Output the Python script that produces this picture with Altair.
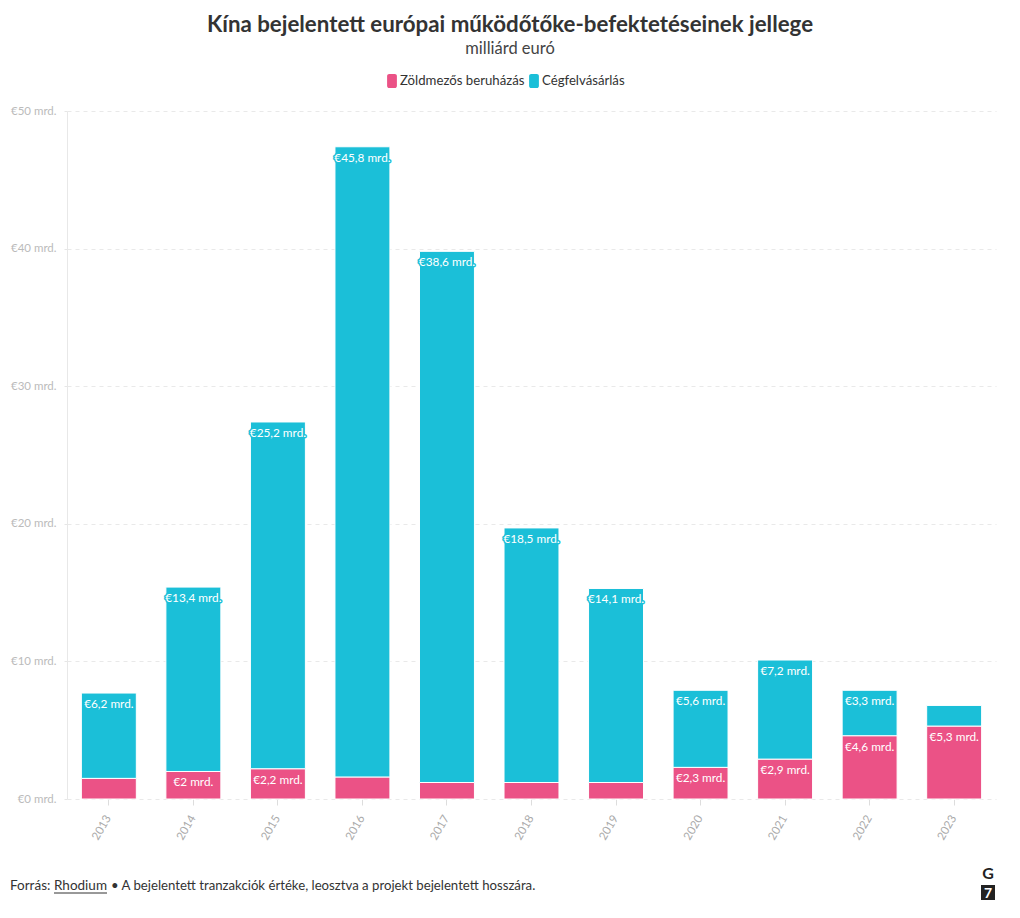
import altair as alt
import pandas as pd

# ---- data ----
years = ["2013", "2014", "2015", "2016", "2017", "2018", "2019", "2020", "2021", "2022", "2023"]
greenfield = [1.5, 2.0, 2.2, 1.6, 1.2, 1.2, 1.2, 2.3, 2.9, 4.6, 5.3]
acquisitions = [6.2, 13.4, 25.2, 45.8, 38.6, 18.5, 14.1, 5.6, 7.2, 3.3, 1.5]
series = ["Zöldmezős beruházás", "Cégfelvásárlás"]
colors = ["#EB5286", "#1BBFD8"]
y_ticks = [0, 10, 20, 30, 40, 50]

TITLE = "Kína bejelentett európai működőtőke-befektetéseinek jellege"
SUBTITLE = "milliárd euró"
FOOT_A = "Forrás:"
FOOT_LINK = "Rhodium"
FOOT_B = "• A bejelentett tranzakciók értéke, leosztva a projekt bejelentett hosszára."
FONT = "Lato"


def fmt(v):
    return "€" + ("%g" % v).replace(".", ",") + " mrd."


rows = []
for i, y in enumerate(years):
    g = greenfield[i]
    a = acquisitions[i]
    rows.append({"year": y, "series": series[0], "value": g, "ord": 0, "top": g, "label": fmt(g)})
    rows.append({"year": y, "series": series[1], "value": a, "ord": 1, "top": g + a, "label": fmt(a)})
df = pd.DataFrame(rows)
lab = df[df["value"] >= 1.9]

xscale = alt.Scale(paddingInner=0.35, paddingOuter=0.17)
yscale = alt.Scale(domain=[0, 50], nice=False)
cscale = alt.Scale(domain=series, range=colors)

legend_shape = ("M-0.4,-1 H0.4 A0.3,0.3 0 0 1 0.7,-0.7 V0.7 A0.3,0.3 0 0 1 0.4,1 "
                "H-0.4 A0.3,0.3 0 0 1 -0.7,0.7 V-0.7 A0.3,0.3 0 0 1 -0.4,-1 Z")

bars = alt.Chart(df).mark_bar(stroke="white", strokeWidth=1).encode(
    x=alt.X("year:N", scale=xscale, title=None,
            axis=alt.Axis(labelAngle=-60, labelColor="#aaaaaa", labelFontSize=11.5, labelFont=FONT,
                          domain=False, ticks=True, tickColor="#dddddd", tickSize=6,
                          labelPadding=11, grid=False)),
    y=alt.Y("value:Q", stack="zero", scale=yscale, title=None,
            axis=alt.Axis(values=y_ticks, labelExpr="'€' + datum.value + ' mrd.'",
                          labelColor="#bbbbbb", labelFontSize=11.5, labelFont=FONT,
                          domain=True, domainColor="#e8e8e8",
                          ticks=True, tickSize=6, tickColor="#e6e6e6", tickDash=[3, 3],
                          grid=True, gridColor="#e9e9e9", gridDash=[4, 4], labelPadding=5)),
    color=alt.Color("series:N", scale=cscale, title=None,
                    legend=alt.Legend(orient="none", legendX=318, legendY=-37, direction="horizontal",
                                      symbolType=legend_shape, symbolSize=196, symbolStrokeWidth=0,
                                      labelFontSize=13.2, labelFont=FONT, labelColor="#333333",
                                      columnPadding=2, labelOffset=1, padding=0)),
    order=alt.Order("ord:Q"),
)

halo = alt.Chart(lab).mark_text(baseline="middle", dy=11, fontSize=11.8, font=FONT,
                                strokeWidth=3, strokeJoin="round", fill="white").encode(
    x=alt.X("year:N", scale=xscale),
    y=alt.Y("top:Q", scale=yscale),
    stroke=alt.Stroke("series:N", scale=cscale, legend=None),
    text="label:N",
)
labels = alt.Chart(lab).mark_text(baseline="middle", dy=11, fontSize=11.8, font=FONT, color="white").encode(
    x=alt.X("year:N", scale=xscale),
    y=alt.Y("top:Q", scale=yscale),
    text="label:N",
)


def txt(s, x, y, **kw):
    return alt.Chart(pd.DataFrame({"t": [s]})).mark_text(**kw).encode(
        x=alt.value(x), y=alt.value(y), text="t:N")


title = txt(TITLE, 443, -79, fontSize=22.3, fontWeight="bold", font=FONT, color="#333333",
            align="center", baseline="alphabetic")
subtitle = txt(SUBTITLE, 443, -57, fontSize=16.5, font=FONT, color="#444444",
               align="center", baseline="alphabetic")
foot_a = txt(FOOT_A, -57, 779, fontSize=13.5, font=FONT, color="#333333", align="left", baseline="alphabetic")
foot_link = txt(FOOT_LINK, -13, 779, fontSize=13.5, font=FONT, color="#333333", align="left", baseline="alphabetic")
foot_b = txt(FOOT_B, 44, 779, fontSize=13.2, font=FONT, color="#333333", align="left", baseline="alphabetic")
underline = alt.Chart(pd.DataFrame({"t": [0]})).mark_rule(color="#333333", strokeWidth=1).encode(
    x=alt.value(-13), x2=alt.value(40), y=alt.value(782))
logo_box = alt.Chart(pd.DataFrame({"t": [0]})).mark_rect(color="#222222").encode(
    x=alt.value(914), x2=alt.value(928), y=alt.value(774), y2=alt.value(789))
logo_g = txt("G", 921, 768, fontSize=16, fontWeight="bold", font=FONT, color="#222222",
             align="center", baseline="alphabetic")
logo_7 = txt("7", 921, 787, fontSize=14, fontWeight="bold", font=FONT, color="white",
             align="center", baseline="alphabetic")

chart = alt.layer(bars, halo, labels, title, subtitle, foot_a, foot_link, foot_b, underline,
                  logo_box, logo_g, logo_7).properties(
    width=929, height=688,
    autosize=alt.AutoSizeParams(type="none"),
    padding={"left": 59, "top": 103, "right": 16, "bottom": 111},
).configure(font=FONT, view=alt.ViewConfig(stroke=None))

chart.save("out.html", embed_options={"renderer": "svg", "actions": False})
